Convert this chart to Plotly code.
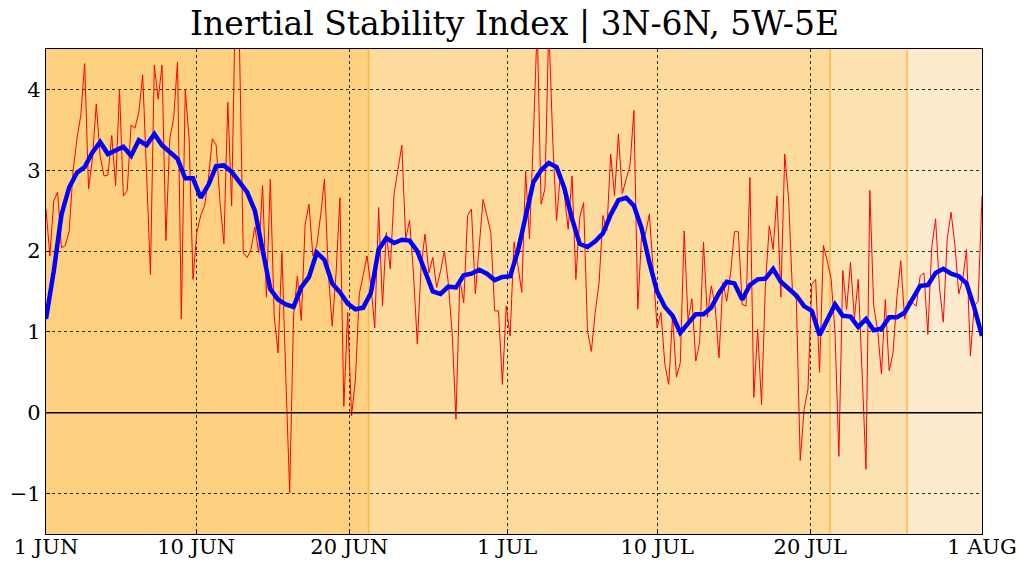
import plotly.graph_objects as go

# 6-hourly raw index (red) and smoothed index (blue, every 2nd sample)
raw_index = [
    2.52, 1.94, 2.62, 2.73, 2.04, 2.07, 2.25, 2.99, 3.39, 3.68,
    4.32, 2.77, 3.14, 3.82, 3.18, 2.93, 2.94, 3.43, 2.81, 4.00,
    2.68, 2.75, 3.56, 3.52, 3.72, 4.18, 2.97, 1.71, 4.30, 3.88,
    4.30, 2.13, 3.39, 3.64, 4.34, 1.16, 4.00, 3.39, 1.65, 2.23,
    2.44, 2.56, 2.90, 3.39, 3.31, 2.60, 2.09, 3.84, 2.56, 5.20,
    4.60, 1.98, 1.92, 2.02, 2.30, 1.98, 2.81, 1.43, 2.89, 1.20,
    0.74, 1.98, 0.45, -0.99, 1.20, 1.69, 1.14, 2.33, 2.58, 1.94,
    2.07, 2.44, 2.89, 1.73, 1.07, 1.73, 2.66, 0.08, 1.24, -0.04,
    0.41, 1.47, 1.70, 1.94, 1.57, 1.05, 2.54, 1.32, 2.23, 1.78,
    2.71, 3.02, 3.31, 2.15, 2.38, 1.73, 0.85, 1.82, 2.21, 1.73,
    1.92, 1.55, 1.75, 2.00, 1.61, 0.99, -0.08, 1.65, 1.36, 2.44,
    2.52, 1.47, 2.05, 2.64, 2.44, 2.23, 1.26, 1.26, 0.35, 1.32,
    0.95, 2.11, 1.82, 1.49, 2.99, 2.15, 3.40, 4.80, 2.58, 2.77,
    4.80, 3.39, 2.38, 2.95, 2.71, 2.27, 2.93, 1.65, 2.42, 2.60,
    1.01, 0.76, 1.24, 1.61, 2.44, 2.25, 3.20, 2.68, 3.45, 2.71,
    2.89, 3.06, 3.74, 1.28, 2.21, 2.21, 2.46, 1.80, 1.05, 1.24,
    0.60, 0.35, 1.20, 0.44, 0.62, 2.25, 1.13, 1.41, 0.64, 0.87,
    2.11, 1.18, 1.57, 1.32, 0.68, 1.61, 1.38, 1.73, 2.24, 2.24,
    1.34, 1.32, 2.91, 0.19, 1.03, 0.10, 1.57, 2.31, 2.02, 2.68,
    1.43, 3.20, 2.64, 1.49, 1.40, -0.59, 0.04, 0.29, 1.59, 1.65,
    0.50, 2.07, 1.88, 1.65, 0.99, -0.54, 1.76, 1.28, 1.86, 1.16,
    1.65, 0.50, -0.70, 2.75, 1.32, 1.03, 0.48, 1.40, 0.52, 0.74,
    1.43, 1.88, 1.16, 1.38, 1.36, 1.32, 1.69, 1.73, 0.97, 2.04,
    2.40, 1.55, 1.12, 2.15, 2.48, 2.07, 1.47, 1.65, 2.02, 0.70,
    1.32, 1.38, 2.68,
]

smooth_index = [
    1.16, 1.75, 2.45, 2.79, 2.97, 3.04, 3.22, 3.35, 3.20, 3.24,
    3.29, 3.18, 3.37, 3.31, 3.45, 3.31, 3.22, 3.14, 2.90, 2.90,
    2.66, 2.82, 3.05, 3.06, 2.98, 2.85, 2.73, 2.50, 1.98, 1.53,
    1.40, 1.34, 1.31, 1.55, 1.68, 1.98, 1.89, 1.60, 1.49, 1.35,
    1.28, 1.30, 1.48, 2.02, 2.16, 2.10, 2.14, 2.13, 2.00, 1.76,
    1.50, 1.47, 1.56, 1.55, 1.70, 1.72, 1.77, 1.72, 1.64, 1.68,
    1.69, 2.00, 2.40, 2.85, 3.00, 3.09, 3.04, 2.78, 2.40, 2.09,
    2.05, 2.12, 2.22, 2.45, 2.63, 2.66, 2.56, 2.28, 1.86, 1.50,
    1.31, 1.20, 0.99, 1.10, 1.22, 1.22, 1.30, 1.48, 1.62, 1.60,
    1.40, 1.58, 1.65, 1.66, 1.78, 1.62, 1.53, 1.45, 1.32, 1.26,
    0.96, 1.14, 1.34, 1.20, 1.19, 1.06, 1.16, 1.02, 1.04, 1.18,
    1.18, 1.24, 1.40, 1.57, 1.58, 1.73, 1.78, 1.72, 1.69, 1.60,
    1.30, 0.95,
]

raw_x = list(range(len(raw_index)))
smooth_x = list(range(0, 2 * len(smooth_index), 2))

tick_pos = [0, 38.8, 78.4, 119.2, 158, 197.6, 242]
tick_labels = ["1 JUN", "10 JUN", "20 JUN", "1 JUL", "10 JUL", "20 JUL", "1 AUG"]
y_ticks = [-1, 0, 1, 2, 3, 4]
y_labels = ["\u22121", "0", "1", "2", "3", "4"]

band_edges = [0, 83.4, 202.7, 222.6, 242]
band_colors = ["#FDD17F", "#FDDB9C", "#FDE2B1", "#FEEBCD"]

FONT = "DejaVu Serif, serif"

fig = go.Figure()

shapes = []
for i, col in enumerate(band_colors):
    shapes.append(dict(type="rect", xref="x", yref="paper",
                       x0=band_edges[i], x1=band_edges[i + 1], y0=0, y1=1,
                       fillcolor=col, line=dict(width=0), layer="below"))
for e in band_edges[1:-1]:
    shapes.append(dict(type="line", xref="x", yref="paper", x0=e, x1=e, y0=0, y1=1,
                       line=dict(color="rgba(255,170,30,0.75)", width=1.5), layer="below"))
shapes.append(dict(type="line", xref="paper", yref="y", x0=0, x1=1, y0=0, y1=0,
                   line=dict(color="black", width=1.3), layer="above"))

fig.add_trace(go.Scatter(x=raw_x, y=raw_index, mode="lines",
                         line=dict(color="#FF0000", width=1), hoverinfo="skip"))
fig.add_trace(go.Scatter(x=smooth_x, y=smooth_index, mode="lines",
                         line=dict(color="#0000FF", width=4.5), hoverinfo="skip"))

fig.update_layout(
    width=1022, height=561,
    margin=dict(l=46, r=40, t=49, b=27, autoexpand=False),
    paper_bgcolor="white", plot_bgcolor="white",
    showlegend=False,
    shapes=shapes,
    font=dict(family=FONT, color="black"),
    title=dict(text="Inertial Stability Index | 3N-6N, 5W-5E", x=0.5035, xanchor="center",
               y=0.978, yanchor="top", font=dict(family=FONT, size=33, color="black")),
)
fig.update_xaxes(range=[0, 242], tickvals=tick_pos, ticktext=tick_labels, automargin=False,
                 showgrid=True, gridcolor="rgba(0,0,0,0.8)", griddash="dot", gridwidth=1,
                 zeroline=False, showline=True, linecolor="black", linewidth=1.3, mirror=True,
                 ticks="inside", ticklen=4, tickcolor="black", ticklabelstandoff=-6,
                 tickfont=dict(family=FONT, size=21, color="black"))
fig.update_yaxes(range=[-1.5, 4.5], tickvals=y_ticks, ticktext=y_labels, automargin=False,
                 showgrid=True, gridcolor="rgba(0,0,0,0.8)", griddash="dot", gridwidth=1,
                 zeroline=False, showline=True, linecolor="black", linewidth=1.3, mirror=True,
                 ticks="inside", ticklen=4, tickcolor="black",
                 tickfont=dict(family=FONT, size=21, color="black"))

fig.write_html("out.html", config={"displayModeBar": False},
               post_script="document.body.style.margin='0';document.body.style.overflow='hidden';")
